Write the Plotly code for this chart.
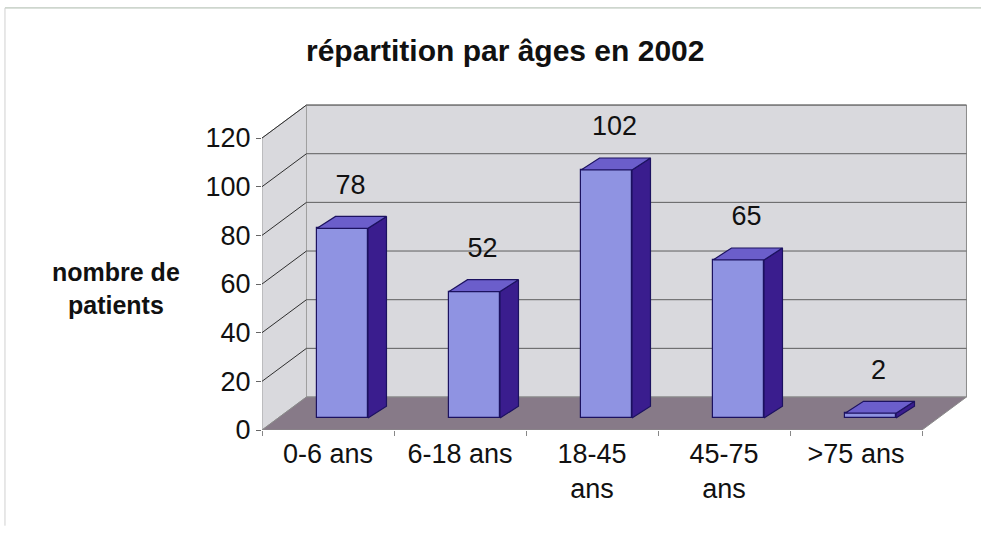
import plotly.graph_objects as go

# ---- data ----
categories = ["0-6 ans", "6-18 ans", "18-45<br>ans", "45-75<br>ans", ">75 ans"]
patients = [78, 52, 102, 65, 2]
y_ticks = [0, 20, 40, 60, 80, 100, 120]

title_text = "répartition par âges en 2002"
y_title = "nombre de<br>patients"

# ---- 3D look parameters (axis units) ----
DEPTH_X = 0.337    # floor depth, category units
DEPTH_Y = 13.56    # floor depth, value units
BAR_SHIFT = 0.11   # front face offset of bar (category units)
BAR_BASE = 4.9     # front face offset of bar (value units)
BAR_W = 0.386
BAR_DX = 0.14
BAR_DY = 4.9
LABEL_DY = 17.0
LABEL_DX = 0.06

FONT = "Liberation Sans, Arial, sans-serif"
WALL = "#d9d9dd"
FLOOR = "#877a88"
FRONT = "#8f93e2"
TOP = "#6b5ecb"
SIDE = "#3a1d8e"
EDGE = "#1c1260"

n = len(categories)
xs = list(range(n))
x_lo, x_hi = -0.5, n - 0.5
y_max = y_ticks[-1]

fig = go.Figure()

shapes = []
# back wall
shapes.append(dict(type="path", layer="below", xref="x", yref="y",
                   path=f"M{x_lo+DEPTH_X},{DEPTH_Y} L{x_hi+DEPTH_X},{DEPTH_Y} L{x_hi+DEPTH_X},{y_max+DEPTH_Y} L{x_lo+DEPTH_X},{y_max+DEPTH_Y} Z",
                   fillcolor=WALL, line=dict(color="#8a8a8a", width=1)))
# side wall
shapes.append(dict(type="path", layer="below", xref="x", yref="y",
                   path=f"M{x_lo},0 L{x_lo},{y_max} L{x_lo+DEPTH_X},{y_max+DEPTH_Y} L{x_lo+DEPTH_X},{DEPTH_Y} Z",
                   fillcolor=WALL, line=dict(color="#a0a0a0", width=1)))
# floor
shapes.append(dict(type="path", layer="below", xref="x", yref="y",
                   path=f"M{x_lo},0 L{x_hi},0 L{x_hi+DEPTH_X},{DEPTH_Y} L{x_lo+DEPTH_X},{DEPTH_Y} Z",
                   fillcolor=FLOOR, line=dict(color="#8a8a8a", width=1)))
# gridlines on back wall and side wall
for t in y_ticks[1:]:
    shapes.append(dict(type="line", layer="below", xref="x", yref="y",
                       x0=x_lo + DEPTH_X, x1=x_hi + DEPTH_X, y0=t + DEPTH_Y, y1=t + DEPTH_Y,
                       line=dict(color="#5e5e5e", width=1)))
    shapes.append(dict(type="line", layer="below", xref="x", yref="y",
                       x0=x_lo, x1=x_lo + DEPTH_X, y0=t, y1=t + DEPTH_Y,
                       line=dict(color="#2e2e2e", width=1)))
# outer chart border (top and left)
shapes.append(dict(type="line", xref="paper", yref="paper", x0=-0.362, x1=1.02, y0=1.279, y1=1.279,
                   line=dict(color="#aab8aa", width=1)))
shapes.append(dict(type="line", xref="paper", yref="paper", x0=-0.362, x1=-0.362, y0=1.279, y1=-0.29,
                   line=dict(color="#d0d0d0", width=1)))

# front faces
face_x = [i + BAR_SHIFT for i in xs]
fig.add_trace(go.Bar(x=face_x, y=patients, base=[BAR_BASE] * n, width=BAR_W,
                     marker=dict(color=FRONT, line=dict(color=EDGE, width=1.2)),
                     hoverinfo="skip", showlegend=False))

# side and top faces
for fx, v in zip(face_x, patients):
    xl, xr = fx - BAR_W / 2, fx + BAR_W / 2
    b, tp = BAR_BASE, BAR_BASE + v
    fig.add_trace(go.Scatter(x=[xr, xr + BAR_DX, xr + BAR_DX, xr, xr],
                             y=[b, b + BAR_DY, tp + BAR_DY, tp, b],
                             mode="lines", fill="toself", fillcolor=SIDE,
                             line=dict(color=EDGE, width=1.2), hoverinfo="skip", showlegend=False))
    fig.add_trace(go.Scatter(x=[xl, xr, xr + BAR_DX, xl + BAR_DX, xl],
                             y=[tp, tp, tp + BAR_DY, tp + BAR_DY, tp],
                             mode="lines", fill="toself", fillcolor=TOP,
                             line=dict(color=EDGE, width=1.2), hoverinfo="skip", showlegend=False))

# value labels
fig.add_trace(go.Scatter(x=[fx + LABEL_DX for fx in face_x],
                         y=[BAR_BASE + v + LABEL_DY for v in patients],
                         mode="text", text=[str(v) for v in patients],
                         textfont=dict(family=FONT, size=27, color="#111111"),
                         hoverinfo="skip", showlegend=False))

# boundary ticks on category axis
fig.add_trace(go.Scatter(x=[x_lo, x_hi], y=[0, 0], xaxis="x2", mode="lines",
                         line=dict(color="rgba(0,0,0,0)"), hoverinfo="skip", showlegend=False))

x_range = [x_lo, x_lo + 710 / 132]
y_range = [0, 330 / 2.433]

fig.update_layout(
    width=981, height=533,
    margin=dict(l=262, r=9, t=100, b=103),
    paper_bgcolor="white", plot_bgcolor="white",
    bargap=0,
    shapes=shapes,
    title=dict(text=f"<b>{title_text}</b>", x=0.515, xanchor="center", y=1 - 50 / 533, yanchor="middle",
               font=dict(family=FONT, size=30, color="#111111")),
    xaxis=dict(range=x_range, tickvals=xs, ticktext=categories, showgrid=False, zeroline=False,
               showline=False, ticks="", tickfont=dict(family=FONT, size=27, color="#111111"),
               ticklabelstandoff=5),
    xaxis2=dict(range=x_range, overlaying="x", side="bottom", tickvals=[i - 0.5 for i in range(n + 1)],
                showticklabels=False, ticks="outside", ticklen=5, tickcolor="#888888",
                showgrid=False, zeroline=False, showline=False),
    yaxis=dict(range=y_range, tickvals=y_ticks, showgrid=False, zeroline=False,
               showline=False, ticks="outside", ticklen=5, tickcolor="#666666",
               tickfont=dict(family=FONT, size=27, color="#111111")),
    annotations=[dict(text=f"<b>{y_title}</b>", xref="paper", yref="paper",
                      x=(116 - 262) / 710, y=(430 - 288) / 330, xanchor="center", yanchor="middle",
                      showarrow=False, font=dict(family=FONT, size=25, color="#111111"))],
)

fig.write_html("out.html", config={"displayModeBar": False},
               post_script="document.body.style.margin='0px';document.body.style.overflow='hidden';")
